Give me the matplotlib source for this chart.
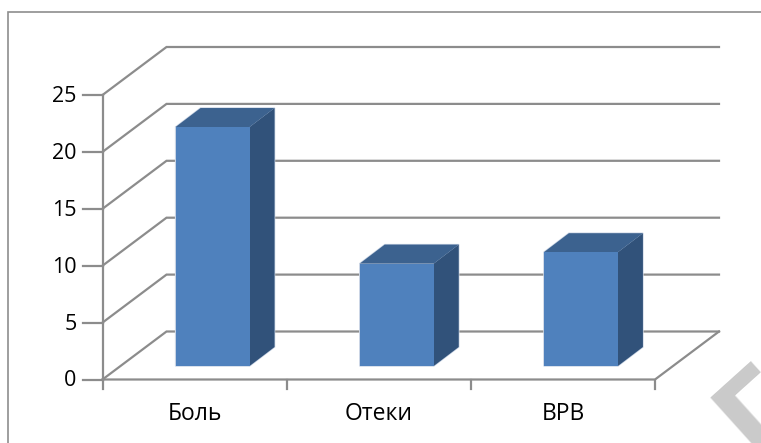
import numpy as np
import matplotlib
matplotlib.use('Agg')
import matplotlib.pyplot as plt
from matplotlib.patches import Polygon

categories = ['Боль', 'Отеки', 'ВРВ']
values = [21, 9, 10]
y_ticks = [0, 5, 10, 15, 20, 25]

W, H = 761, 443
# pixel positions of the front plane of the chart
x0_px, x1_px = 102.5, 655.0
y0_px, y25_px = 379.5, 95.0
cat_px = (x1_px - x0_px) / len(categories)
val_px = (y0_px - y25_px) / 25

plt.rcParams['font.family'] = ['Open Sans', 'DejaVu Sans']

fig = plt.figure(figsize=(W / 100, H / 100), dpi=100)
ax = fig.add_axes([0, 0, 1, 1])
ax.set_xlim(-x0_px / cat_px, (W - x0_px) / cat_px)
ax.set_ylim(-(H - y0_px) / val_px, y0_px / val_px)
ax.axis('off')

GRID = '#8c8c8c'

# depth of the floor and of the bars, in data units
dx = 64 / cat_px
dy = 48 / val_px
bar_w = 74 / cat_px
bar_dx = 25 / cat_px
bar_dy = 19 / val_px
off_x = 13.5 * 64 / 48 / cat_px
off_y = 13.5 / val_px
n = len(categories)

# outer frame
frame_x = (8 - x0_px) / cat_px
frame_y = (y0_px - 11.5) / val_px
ax.plot([frame_x, frame_x, ax.get_xlim()[1]], [ax.get_ylim()[0], frame_y, frame_y],
        color='#8e8e8e', lw=1.2, solid_joinstyle='miter')

# gridlines on the side and back walls
for v in y_ticks:
    ax.plot([0, dx, n + dx], [v, v + dy, v + dy], color=GRID, lw=1.6, solid_joinstyle='miter')
    ax.plot([-20 / cat_px, 0], [v, v], color=GRID, lw=1.6)
    ax.text(-26 / cat_px, v - 1.5 / val_px, str(v), ha='right', va='center', fontsize=15.5, color='black')

# axes lines
ax.plot([0, 0], [0, 25], color=GRID, lw=1.6)
ax.plot([0, n, n + dx], [0, 0, dy], color=GRID, lw=1.6)
for i in range(n + 1):
    ax.plot([i, i], [0, -9 / val_px], color=GRID, lw=1.6)

# bars
for i, (name, v) in enumerate(zip(categories, values)):
    left = i + 0.5 - bar_w / 2 + off_x
    right = left + bar_w
    bottom = off_y
    top = off_y + v
    # light outline round the whole box, faces go on top of it
    ax.add_patch(Polygon([(left, bottom), (right, bottom), (right + bar_dx, bottom + bar_dy),
                          (right + bar_dx, top + bar_dy), (left + bar_dx, top + bar_dy), (left, top)],
                         facecolor='#c9d4e4', edgecolor='#c9d4e4', lw=1.0, zorder=3))
    ax.add_patch(Polygon([(right, bottom), (right + bar_dx, bottom + bar_dy),
                          (right + bar_dx, top + bar_dy), (right, top)],
                         facecolor='#31527a', lw=0, zorder=4))
    ax.add_patch(Polygon([(left, top), (right, top), (right + bar_dx, top + bar_dy),
                          (left + bar_dx, top + bar_dy)],
                         facecolor='#3c628f', lw=0, zorder=4))
    ax.add_patch(Polygon([(left, bottom), (right, bottom), (right, top), (left, top)],
                         facecolor='#4f81bd', lw=0, zorder=5))
    ax.text(i + 0.5, -35 / val_px, name, ha='center', va='center', fontsize=16.5, color='black')

# watermark letter cut off by the corner of the page
fig.text(752 / W, 1 - 455 / H, 'Г', fontsize=76, fontweight='bold', color='#cacaca',
         family='DejaVu Sans', rotation=42, rotation_mode='anchor', ha='left', va='baseline', zorder=6)

fig.savefig('out.png', dpi=100)
